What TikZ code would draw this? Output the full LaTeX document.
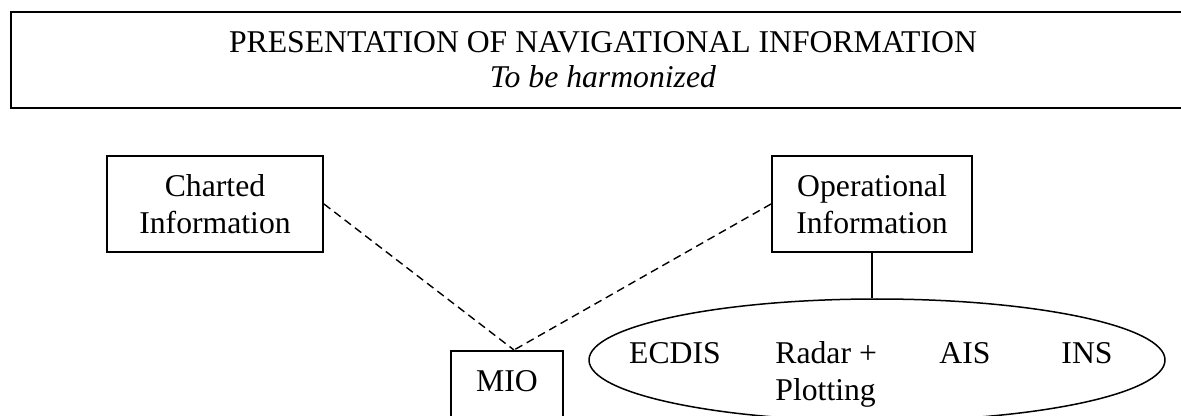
\documentclass[tikz,border=0pt]{standalone}
\usepackage{fontspec}
\setmainfont{Liberation Serif}
\usetikzlibrary{shapes.geometric}

\tikzset{
    infobox/.style={draw, line width=1pt, align=center, inner sep=0pt},
    link/.style={line width=0.7pt, dash pattern=on 4pt off 2.5pt},
}

\begin{document}
\begin{tikzpicture}[x=0.5pt, y=-0.5pt, font=\fontsize{15.85}{18.5}\selectfont]
    \useasboundingbox (0,0) rectangle (1181,416);

    % Title box (runs off the right edge)
    \node[infobox, minimum width=592pt, minimum height=48pt,
          font=\fontsize{15.85}{17.5}\selectfont] (title) at (603,60)
        {PRESENTATION OF NAVIGATIONAL INFORMATION\\ \textit{To be harmonized}};

    % Information boxes
    \node[infobox, minimum width=108pt, minimum height=48pt] (charted) at (215,204)
        {Charted\\Information};
    \node[infobox, minimum width=100pt, minimum height=48pt] (operational) at (872,204)
        {Operational\\Information};

    % MIO box (cut off at bottom)
    \node[infobox, anchor=north, minimum width=56pt, inner ysep=10pt, text depth=16pt] (mio) at (507,350)
        {MIO};

    % Systems ellipse
    \node[draw, ellipse, line width=0.75pt, minimum width=288pt, minimum height=61pt, inner sep=0pt]
        (systems) at (877,360) {};
    \node[anchor=base] (ecdis) at (675,363) {ECDIS};
    \node[anchor=west, align=left, inner sep=0pt] (radar) at (775,374) {Radar +\\Plotting};
    \node[anchor=base] (ais) at (965,363) {AIS};
    \node[anchor=base] (ins) at (1087,363) {INS};

    % Connectors
    \draw[link] (charted.east) -- ([xshift=3.5pt]mio.north);
    \draw[link] (operational.west) -- ([xshift=3.5pt]mio.north);
    \draw[line width=0.75pt] (operational.south) -- (operational.south |- systems.north);

\end{tikzpicture}
\end{document}
